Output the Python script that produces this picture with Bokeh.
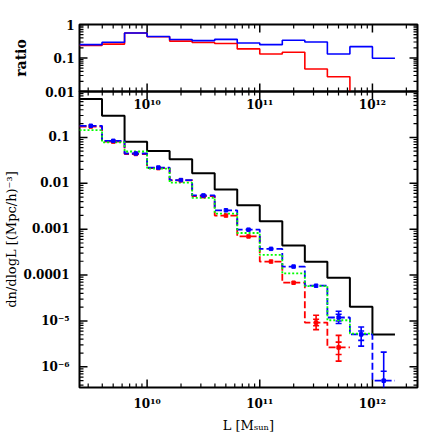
import numpy as np
from bokeh.plotting import figure
from bokeh.layouts import column
from bokeh.models import FixedTicker, Whisker, ColumnDataSource, TeeHead
from bokeh.core.properties import value
from bokeh.embed import file_html
from bokeh.resources import INLINE

FONT = "DejaVu Serif"

# ---------------- data ----------------
bin_edges_log = [9.4, 9.6, 9.8, 10.0, 10.2, 10.4, 10.6, 10.8, 11.0, 11.2, 11.4, 11.6, 11.8, 12.0, 12.2]

black_vals = [0.69, 0.298, 0.080, 0.0508, 0.0334, 0.0165, 7.35e-3, 3.33e-3, 1.48e-3,
              4.42e-4, 1.94e-4, 8.77e-5, 2.03e-5, 5.1e-6]
blue_vals = [0.179, 0.0841, 0.0446, 0.0220, 0.01175, 5.43e-3, 2.58e-3, 9.75e-4, 3.73e-4,
             1.53e-4, 5.86e-5, 1.19e-5, 5.1e-6, 5.0e-7]
red_vals = [0.1726, 0.0809, 0.0435, 0.0214, 0.01159, 5.24e-3, 1.98e-3, 6.95e-4, 1.97e-4,
            6.81e-5, 9.2e-6, 2.65e-6, None, None]
green_vals = [0.1445, 0.0776, 0.0493, 0.0209, 0.0103, 4.83e-3, 2.19e-3, 8.26e-4, 2.76e-4,
              1.09e-4, 5.77e-5, 1.035e-5, 5.3e-6, None]

ratio_blue = [0.25, 0.295, 0.56, 0.44, 0.355, 0.33, 0.36, 0.28, 0.25, 0.34, 0.30, 0.132, 0.218, 0.098]
ratio_red = [0.235, 0.26, 0.56, 0.43, 0.32, 0.29, 0.27, 0.187, 0.132, 0.148, 0.047, 0.0275, None, None]

# error bars (bin index, outer lower, outer upper, inner lower, inner upper)
blue_err_bins = [11, 12, 13]
blue_err_lo = [8.77e-6, 2.83e-6, 1.0e-7]
blue_err_hi = [1.63e-5, 7.38e-6, 2.09e-6]
blue_in_lo = [1.0e-5, 3.78e-6, 1.0e-7]
blue_in_hi = [1.40e-5, 6.04e-6, 8.0e-7]
red_err_bins = [10, 11]
red_err_lo = [6.47e-6, 1.33e-6]
red_err_hi = [1.33e-5, 4.85e-6]
red_in_lo = [7.85e-6, 1.86e-6]
red_in_hi = [1.09e-5, 3.46e-6]

x_major = [1e10, 1e11, 1e12]
x_labels = ["10\u00b9\u2070", "10\u00b9\u00b9", "10\u00b9\u00b2"]
main_y_major = [1e-6, 1e-5, 1e-4, 1e-3, 1e-2, 1e-1]
main_y_labels = ["10\u207b\u2076", "10\u207b\u2075", "0.0001", "0.001", "0.01", "0.1"]
ratio_y_major = [0.01, 0.1, 1.0]
ratio_y_labels = ["0.01", "0.1", "1"]

# ---------------- helpers ----------------
edges = 10 ** np.array(bin_edges_log)
centers = 10 ** ((np.array(bin_edges_log[:-1]) + np.array(bin_edges_log[1:])) / 2)
X_RANGE = (10 ** 9.4, 10 ** 12.4)
MAIN_Y = (10 ** -6.45, 1.0)
RATIO_Y = (0.01, 1.0)
FRAME_W = 338
TOP_H = 67
MAIN_H = 296
OVERLAP = 10


def steps(vals, drop_to=None):
    xs, ys = [], []
    last = None
    for i, v in enumerate(vals):
        if v is None:
            continue
        xs += [float(edges[i]), float(edges[i + 1])]
        ys += [v, v]
        last = i
    if drop_to is not None:
        xs.append(float(edges[last + 1]))
        ys.append(drop_to)
    return xs, ys


def minors(decades, rng):
    out = [k * 10.0 ** d for d in decades for k in range(2, 10)]
    return [t for t in out if rng[0] < t < rng[1]]


x_minor = minors([9, 10, 11, 12], X_RANGE)
main_y_minor = minors([-7, -6, -5, -4, -3, -2, -1], MAIN_Y)
ratio_y_minor = minors([-2, -1], RATIO_Y)


def style_axis(ax, standoff=9):
    ax.axis_line_color = None
    ax.major_tick_in = 0
    ax.major_tick_out = 0
    ax.minor_tick_in = 0
    ax.minor_tick_out = 0
    ax.major_tick_line_color = None
    ax.minor_tick_line_color = None
    ax.major_label_text_font = FONT
    ax.major_label_text_font_style = "bold"
    ax.major_label_text_color = "black"
    ax.major_label_text_font_size = "12px"
    ax.major_label_standoff = standoff
    ax.axis_label_text_font = FONT
    ax.axis_label_text_font_style = "normal"
    ax.axis_label_text_color = "black"
    ax.axis_label_text_font_size = "13px"


def base_fig(y_range, frame_height, min_border_top, min_border_bottom):
    p = figure(x_axis_type="log", y_axis_type="log", x_range=X_RANGE, y_range=y_range,
               frame_width=FRAME_W, frame_height=frame_height, min_border_left=74,
               min_border_right=12, min_border_top=min_border_top,
               min_border_bottom=min_border_bottom, output_backend="svg",
               toolbar_location=None, background_fill_color=None,
               border_fill_color="white")
    p.xgrid.visible = False
    p.ygrid.visible = False
    p.outline_line_color = "black"
    p.outline_line_width = 2
    return p


def add_inner_ticks(p, yr, frame_h, xmaj, xmin, ymaj, ymin):
    # tick marks on all four frame edges (straddling the edge; the outer half is clipped)
    xpd = FRAME_W / (np.log10(X_RANGE[1]) - np.log10(X_RANGE[0]))
    ypd = frame_h / (np.log10(yr[1]) - np.log10(yr[0]))
    for ticks, ln, lw in ((xmaj, 8, 1.5), (xmin, 4, 1.2)):
        f = 10 ** (ln / ypd)
        t = [float(v) for v in ticks]
        n = len(t)
        p.segment(x0=t * 2, x1=t * 2,
                  y0=[yr[0] / f] * n + [yr[1] * f] * n,
                  y1=[yr[0] * f] * n + [yr[1] / f] * n,
                  line_color="black", line_width=lw)
    for ticks, ln, lw in ((ymaj, 8, 1.5), (ymin, 4, 1.2)):
        f = 10 ** (ln / xpd)
        t = [float(v) for v in ticks]
        n = len(t)
        p.segment(x0=[X_RANGE[0] / f] * n + [X_RANGE[1] * f] * n,
                  x1=[X_RANGE[0] * f] * n + [X_RANGE[1] / f] * n,
                  y0=t * 2, y1=t * 2, line_color="black", line_width=lw)


# ---------------- top (ratio) panel ----------------
top = base_fig(RATIO_Y, TOP_H, 24, OVERLAP)
top.xaxis.visible = False
top.yaxis.ticker = FixedTicker(ticks=ratio_y_major, minor_ticks=ratio_y_minor)
style_axis(top.yaxis[0], standoff=5)
top.yaxis.major_label_overrides = dict(zip(ratio_y_major, ratio_y_labels))
top.yaxis.axis_label = "ratio"
top.yaxis.axis_label_text_font_style = "bold"
top.yaxis.axis_label_text_font_size = "14px"
top.yaxis.axis_label_standoff = 13

xs, ys = steps(ratio_red, drop_to=1e-3)
top.line(xs, ys, line_color="#ff0000", line_width=1.6)
xs, ys = steps(ratio_blue)
top.line(xs, ys, line_color="#0000ff", line_width=1.6)
add_inner_ticks(top, RATIO_Y, TOP_H, x_major, x_minor, ratio_y_major, ratio_y_minor)

# ---------------- main panel ----------------
main = base_fig(MAIN_Y, MAIN_H, OVERLAP, 40)
main.border_fill_alpha = 0
main.margin = (-2 * OVERLAP, 0, 0, 0)
main.xaxis.ticker = FixedTicker(ticks=x_major, minor_ticks=x_minor)
main.yaxis.ticker = FixedTicker(ticks=main_y_major, minor_ticks=main_y_minor)
style_axis(main.xaxis[0], standoff=9)
style_axis(main.yaxis[0], standoff=10)
main.xaxis.major_label_overrides = dict(zip(x_major, x_labels))
main.yaxis.major_label_overrides = dict(zip(main_y_major, main_y_labels))
main.xaxis.axis_label = "L [M\u209b\u1d64\u2099]"
main.yaxis.axis_label = "dn/dlogL [(Mpc/h)\u207b\u00b3]"
main.xaxis.axis_label_standoff = 4
main.yaxis.axis_label_standoff = 2

xs, ys = steps(black_vals)
main.line(xs, ys, line_color="black", line_width=2)
xs, ys = steps(red_vals)
main.line(xs, ys, line_color="#ff0000", line_width=1.8, line_dash="7 3")
xs, ys = steps(blue_vals)
main.line(xs, ys, line_color="#0000ff", line_width=1.8, line_dash="7 3")
xs, ys = steps(green_vals)
main.line(xs, ys, line_color="#00ff00", line_width=1.8, line_dash="2 2")

red_c = [float(c) for c, v in zip(centers, red_vals) if v is not None]
red_v = [v for v in red_vals if v is not None]
main.scatter(red_c, red_v, marker="square", size=3.5, color="#ff0000")
main.scatter([float(c) for c in centers], blue_vals, marker="square", size=3.5, color="#0000ff")


def add_err(p, bins, lo, hi, ilo, ihi, color):
    src = ColumnDataSource(dict(x=[float(centers[i]) for i in bins], lo=lo, hi=hi, ilo=ilo, ihi=ihi))
    p.add_layout(Whisker(base="x", lower="lo", upper="hi", source=src, dimension="height",
                         line_color=color, line_width=1.6,
                         lower_head=TeeHead(size=6, line_color=color, line_width=1.6),
                         upper_head=TeeHead(size=6, line_color=color, line_width=1.6)))
    p.add_layout(Whisker(base="x", lower="ilo", upper="ihi", source=src, dimension="height",
                         line_alpha=0,
                         lower_head=TeeHead(size=6, line_color=color, line_width=1.6),
                         upper_head=TeeHead(size=6, line_color=color, line_width=1.6)))


add_err(main, red_err_bins, red_err_lo, red_err_hi, red_in_lo, red_in_hi, "#ff0000")
add_err(main, blue_err_bins, blue_err_lo, blue_err_hi, blue_in_lo, blue_in_hi, "#0000ff")
add_inner_ticks(main, MAIN_Y, MAIN_H, x_major, x_minor, main_y_major, main_y_minor)

# x tick labels of the ratio panel, printed just inside the top of the main panel
main.text(x=x_major, y=[MAIN_Y[1]] * len(x_major), text=x_labels, text_align="center",
          text_baseline="top", y_offset=6, text_font=value(FONT), text_font_size="12px",
          text_font_style="bold", text_color="black")

layout = column(top, main, spacing=0)
open("out.html", "w").write(file_html(layout, INLINE))
